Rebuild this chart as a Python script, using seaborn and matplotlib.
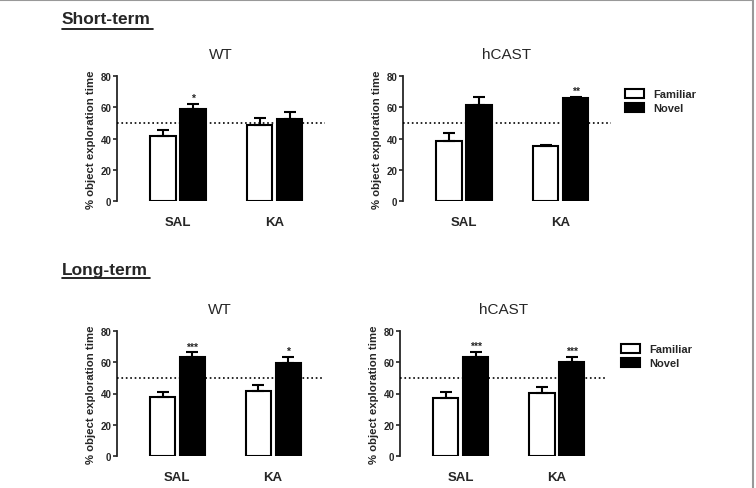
import pandas as pd
import matplotlib.pyplot as plt
import seaborn as sns
from matplotlib.lines import Line2D
from matplotlib.patches import Rectangle

# 1. Data
groups = ['SAL', 'KA']
objects = ['Familiar', 'Novel']

short_wt_fam = [41.6, 48.6]
short_wt_nov = [58.9, 52.5]
short_wt_fam_sem = [3.8, 4.5]
short_wt_nov_sem = [3.1, 4.3]

short_hc_fam = [38.6, 35.0]
short_hc_nov = [61.4, 65.7]
short_hc_fam_sem = [4.9, 1.0]
short_hc_nov_sem = [5.0, 1.0]

long_wt_fam = [37.5, 41.4]
long_wt_nov = [63.1, 59.5]
long_wt_fam_sem = [3.2, 4.2]
long_wt_nov_sem = [3.2, 4.1]

long_hc_fam = [37.1, 40.3]
long_hc_nov = [63.1, 60.0]
long_hc_fam_sem = [3.6, 3.7]
long_hc_nov_sem = [3.7, 3.6]

short_wt_stars = ['*', '']
short_hc_stars = ['', '**']
long_wt_stars = ['***', '*']
long_hc_stars = ['***', '***']

sns.set_style('white')
plt.rcParams['font.family'] = ['Liberation Sans', 'DejaVu Sans']

fig = plt.figure(figsize=(7.56, 4.89), dpi=100)


def make_df(fam, nov):
    return pd.DataFrame({
        'group': groups * 2,
        'object': ['Familiar'] * 2 + ['Novel'] * 2,
        'value': list(fam) + list(nov),
    })


def panel(rect, title, fam, nov, fam_sem, nov_sem, stars, legend=False):
    ax = fig.add_axes(rect)
    sns.barplot(data=make_df(fam, nov), x='group', y='value', hue='object',
                hue_order=objects, palette={'Familiar': 'white', 'Novel': 'black'},
                edgecolor='black', linewidth=1.5, width=0.62, gap=0.16,
                errorbar=None, legend=legend, ax=ax)
    # one-sided SEM error bars + significance stars
    for cont, sem, st in zip(ax.containers, [fam_sem, nov_sem], [['', ''], stars]):
        xs = [b.get_x() + b.get_width() / 2 for b in cont]
        ys = [b.get_height() for b in cont]
        ax.errorbar(xs, ys, yerr=[[0] * len(sem), sem], fmt='none', ecolor='black',
                    elinewidth=1.5, capsize=4, capthick=1.5, zorder=3)
        for x, y, e, s in zip(xs, ys, sem, st):
            if s:
                ax.text(x, y + e + 0.5, s, ha='center', va='bottom',
                        fontsize=7.5, fontweight='bold')
    ax.axhline(50, color='black', ls=':', lw=1.2, zorder=4)
    ax.set_xlim(-0.63, 1.52)
    ax.set_ylim(0, 80)
    ax.set_yticks([0, 20, 40, 60, 80])
    sns.despine(ax=ax, bottom=True)
    ax.spines['left'].set_linewidth(1.3)
    ax.spines['left'].set_bounds(0, 80)
    ax.tick_params(axis='y', length=3, width=1.2, labelsize=7, pad=1, left=True)
    ax.tick_params(axis='x', length=0, labelsize=9.5, pad=11)
    for lab in ax.get_xticklabels() + ax.get_yticklabels():
        lab.set_fontweight('bold')
    ax.set_xlabel('')
    ax.set_ylabel('% object exploration time', fontsize=8.2, fontweight='bold', labelpad=3)
    ax.set_title(title, fontsize=11, pad=13)
    if legend:
        ax.legend(loc='upper left', bbox_to_anchor=(1.02, 0.98), frameon=False,
                  prop={'weight': 'bold', 'size': 8}, handlelength=1.7,
                  handleheight=0.9, labelspacing=0.35)
    return ax


h = 125 / 489
panel([117 / 756, 1 - 202 / 489, 208 / 756, h], 'WT',
      short_wt_fam, short_wt_nov, short_wt_fam_sem, short_wt_nov_sem, short_wt_stars)
panel([403 / 756, 1 - 202 / 489, 208 / 756, h], 'hCAST',
      short_hc_fam, short_hc_nov, short_hc_fam_sem, short_hc_nov_sem, short_hc_stars, legend=True)
panel([117 / 756, 1 - 457 / 489, 206 / 756, h], 'WT',
      long_wt_fam, long_wt_nov, long_wt_fam_sem, long_wt_nov_sem, long_wt_stars)
panel([400 / 756, 1 - 457 / 489, 207 / 756, h], 'hCAST',
      long_hc_fam, long_hc_nov, long_hc_fam_sem, long_hc_nov_sem, long_hc_stars, legend=True)

# 2. Section headings with underline
fig.text(62 / 756, 1 - 20 / 489, 'Short-term', fontsize=12.5, fontweight='bold', va='center')
fig.add_artist(Line2D([62 / 756, 153 / 756], [1 - 30 / 489] * 2, color='black', lw=1.2))
fig.text(62 / 756, 1 - 270 / 489, 'Long-term', fontsize=12.5, fontweight='bold', va='center')
fig.add_artist(Line2D([62 / 756, 150 / 756], [1 - 279 / 489] * 2, color='black', lw=1.2))

# 3. Gray frame (top and right edges visible)
fig.add_artist(Rectangle((-0.01, -0.01), 1.006, 1.008, transform=fig.transFigure,
                         fill=False, edgecolor='#999999', lw=1.5))

plt.savefig('out.png', dpi=100)
